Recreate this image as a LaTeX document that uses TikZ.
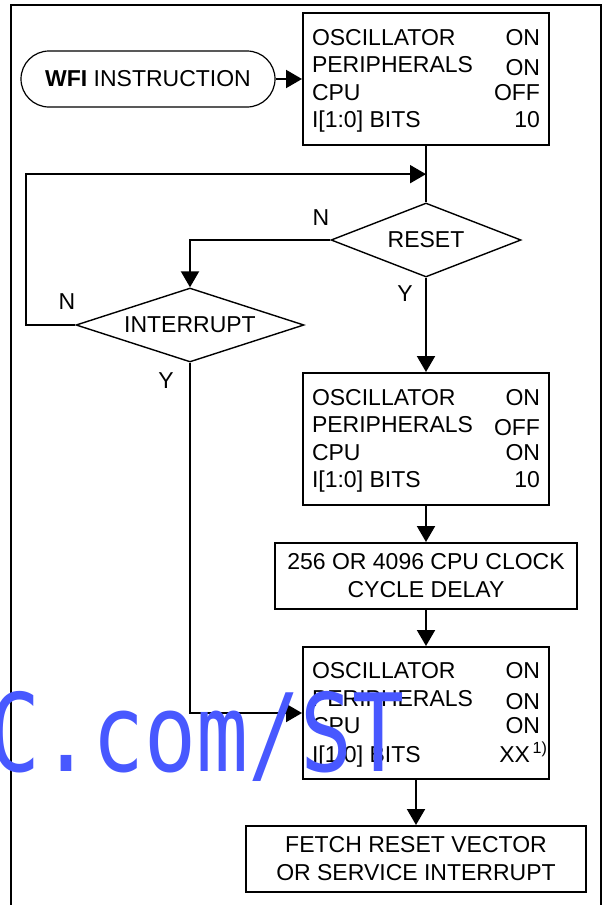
\documentclass[tikz,border=0pt]{standalone}
\usepackage{fontspec}
\setmainfont{Liberation Sans}
\newfontfamily\wmfont{DejaVu Sans Mono}
\usepackage{xcolor}
\usetikzlibrary{arrows.meta,positioning,calc,shapes.geometric}
\definecolor{zw}{RGB}{0,0,0}
\definecolor{wm}{RGB}{72,88,255}
\newcommand{\WM}[1]{\textcolor{wm}{#1}}

\begin{document}
\begin{tikzpicture}[x=0.5pt,y=-0.5pt,
  every node/.style={font=\fontsize{11.5}{14}\selectfont},
  statebox/.style={draw,line width=1pt,minimum width=123pt,minimum height=66pt,inner sep=0pt,font=\fontsize{11.5}{13.7}\selectfont},
  textbox/.style={draw,line width=1pt,minimum height=33pt,inner sep=0pt,align=center},
  decision/.style={draw,diamond,line width=0.7pt,inner sep=0pt},
  flow/.style={line width=1pt,-{Triangle[length=8pt,width=9pt]}}]
  \useasboundingbox (0,0) rectangle (609,905);
  \draw[line width=1pt] (10.5,905) -- (10.5,5) -- (601,5) -- (601,905);

  % top
  \node[draw,line width=0.6pt,rounded corners=14pt,minimum width=127pt,minimum height=28pt,inner sep=0pt] (wfi) at (148,79) {\textbf{WFI} INSTRUCTION};
  \node[statebox] (s1) at (426,79) {\begin{tabular*}{114pt}{@{}l@{\extracolsep{\fill}}r@{}}
    \rule{0pt}{11.6pt}OSCILLATOR & ON\\
    PERIPHERALS & \raisebox{-1.5pt}{ON}\\
    CPU & OFF\\
    I[1:0] BITS & 10
  \end{tabular*}};

  % decisions
  \node[decision,minimum width=95pt,minimum height=37pt,aspect=2.57] (reset) at (426,240) {RESET};
  \node[decision,minimum width=114pt,minimum height=37pt,aspect=3.08] (intr) at (190,325) {INTERRUPT};
  \coordinate (loop) at ($(s1.south)!0.5!(reset.north)$);

  \node (nreset) at (321,218) {N};
  \node (yreset) at (405,294) {Y};
  \node (nintr) at (67,302) {N};
  \node (yintr) at (166,381) {Y};

  % lower
  \node[statebox] (s2) at (426,439) {\begin{tabular*}{114pt}{@{}l@{\extracolsep{\fill}}r@{}}
    \rule{0pt}{11.6pt}OSCILLATOR & ON\\
    PERIPHERALS & \raisebox{-1.5pt}{OFF}\\
    CPU & ON\\
    I[1:0] BITS & 10
  \end{tabular*}};
  \node[textbox,minimum width=151pt] (delay) at (426,576) {256 OR 4096 CPU CLOCK\\CYCLE DELAY};
  \node[statebox] (s3) at (426,713) {\begin{tabular*}{114pt}{@{}l@{\extracolsep{\fill}}r@{}}
    \rule{0pt}{11.6pt}OSCILLATOR & ON\\
    PERIPHERALS & \raisebox{-1.5pt}{ON}\\
    CPU & ON\\
    I[1:0] BITS & XX\textsuperscript{\,1)}\hspace{-4pt}
  \end{tabular*}};
  \node[textbox,minimum width=170pt] (fetch) at (416,859) {FETCH RESET VECTOR\\OR SERVICE INTERRUPT};

  % connectors
  \draw[flow] (wfi) -- (s1);
  \draw[line width=1pt] (s1) -- (reset);
  \draw[flow] (intr.west) -- ++(-49,0) |- (loop);
  \draw[flow] (reset.west) -| (intr.north);
  \draw[flow] (reset.south) -- (s2.north);
  \draw[flow] (s2) -- (delay);
  \draw[flow] (delay) -- (s3);
  \draw[flow] (intr.south) |- (s3.west);
  \draw[flow] (s3.south -| fetch.north) -- (fetch.north);

  % watermark
  \node[anchor=base west,font=\wmfont\fontsize{54}{54}\selectfont,xscale=0.8,inner sep=0pt] (wmark) at (-12,771) {\WM{C.com/ST}};
\end{tikzpicture}
\end{document}
